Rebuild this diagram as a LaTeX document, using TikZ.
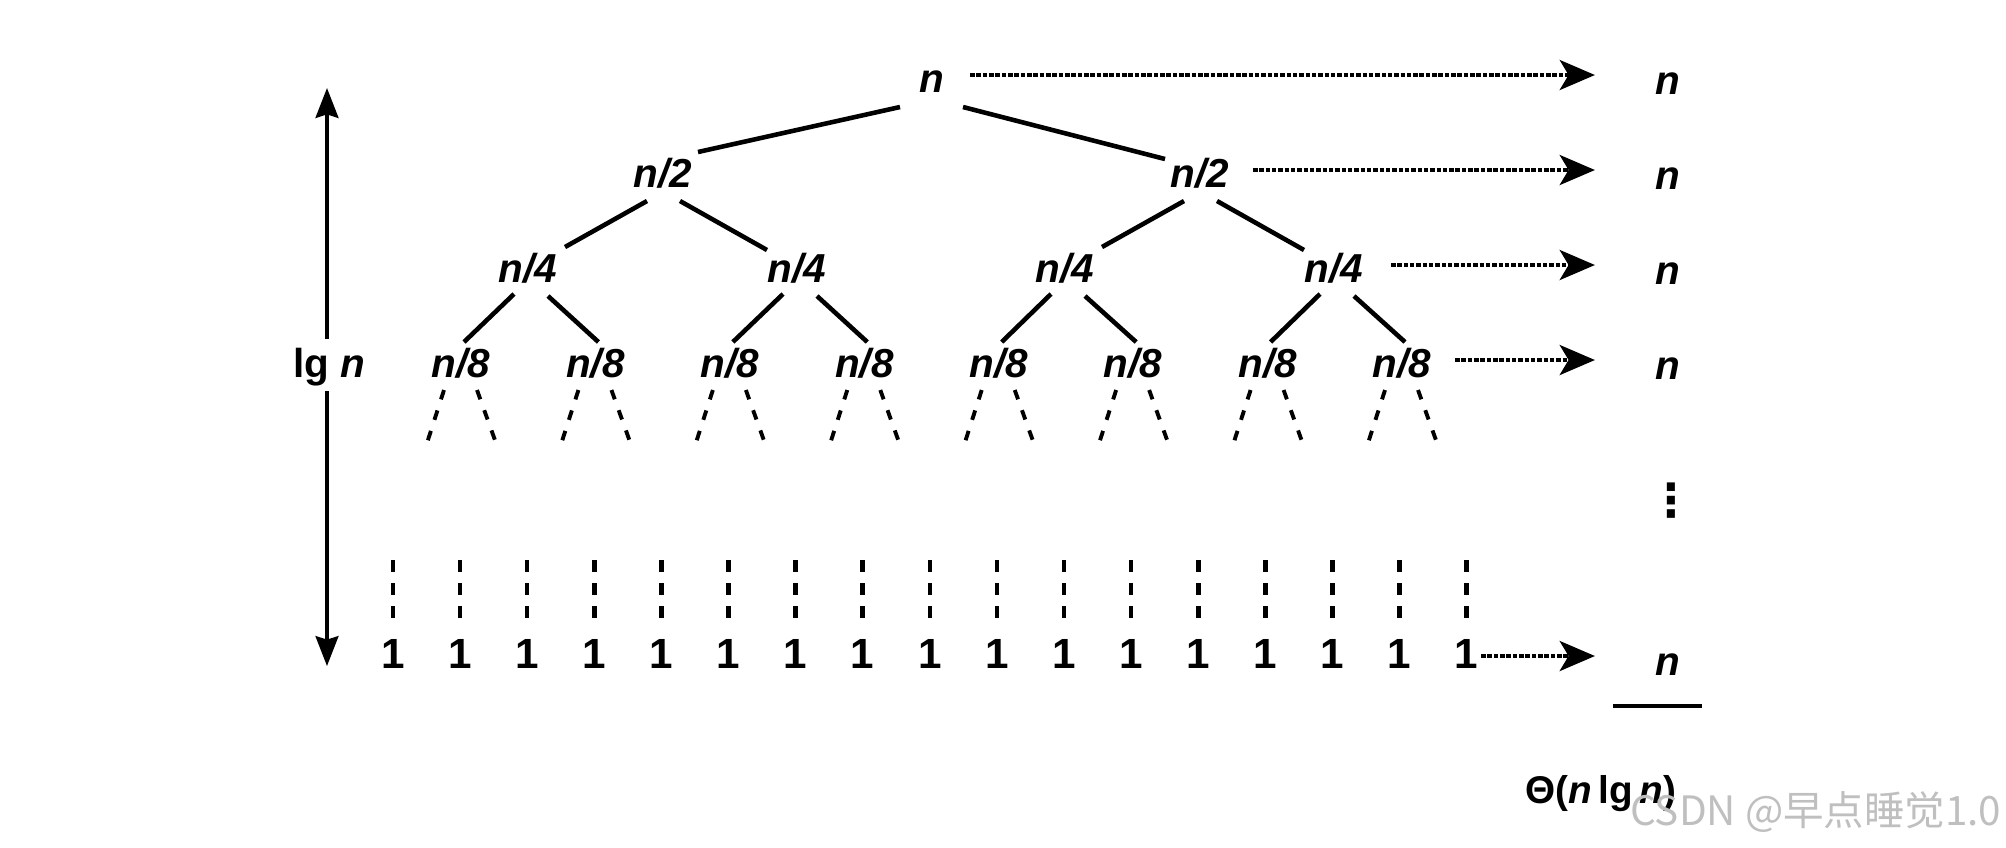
\documentclass[tikz,border=0pt]{standalone}
\usepackage{fontspec}
\setmainfont{Liberation Sans}
\newfontfamily\cjk{Noto Sans CJK SC}
\newfontfamily\dejavu{DejaVu Sans}
\usetikzlibrary{arrows.meta,calc}
\begin{document}
\begin{tikzpicture}[x=0.01cm,y=-0.01cm,
  lab/.style={inner sep=0pt, anchor=base, font=\fontsize{11.5}{13}\selectfont\bfseries\itshape},
  one/.style={inner sep=0pt, anchor=base, font=\fontsize{12}{14}\selectfont\bfseries},
  edge/.style={line width=1.3pt},
  stub/.style={line width=1.1pt, dash pattern=on 2.8pt off 3.3pt},
  col/.style={line width=1.3pt, dash pattern=on 3.4pt off 3.2pt},
  darr/.style={line width=1.3pt, dash pattern=on 1.3pt off 0.5pt, -{Stealth[length=10pt,width=8.5pt,inset=2.5pt]}},
  vaxis/.style={line width=1pt, -{Stealth[length=8.5pt,width=6.5pt,inset=1pt]}}]
\useasboundingbox (0,0) rectangle (2006,847);

% tree nodes
\node[lab] (r) at (932,92) {n};
\node[lab] (a1) at (663,187) {n/2};
\node[lab] (a2) at (1200,187) {n/2};
\foreach \i/\x in {1/528,2/797,3/1065,4/1334}
  \node[lab] (b\i) at (\x,282) {n/4};
\foreach \i in {1,...,8}
  \node[lab] (c\i) at ({461+134.43*(\i-1)},377) {n/8};

% tree edges
\draw[edge] ($(r.base)+(-32,15)$) -- ($(a1.base)+(35,-35)$);
\draw[edge] ($(r.base)+(31,15)$) -- ($(a2.base)+(-35,-28)$);
\foreach \p/\l/\q in {a1/b1/b2, a2/b3/b4}{
  \draw[edge] ($(\p.base)+(-16,14)$) -- ($(\l.base)+(37,-35)$);
  \draw[edge] ($(\p.base)+(17,14)$) -- ($(\q.base)+(-30,-32)$);
}
\foreach \p/\l/\q in {b1/c1/c2, b2/c3/c4, b3/c5/c6, b4/c7/c8}{
  \draw[edge] ($(\p.base)+(-14,12)$) -- ($(\l.base)+(3,-35)$);
  \draw[edge] ($(\p.base)+(20,14)$) -- ($(\q.base)+(3,-35)$);
}
% dotted stubs below n/8
\foreach \i in {1,...,8}{
  \draw[stub] ($(c\i.base)+(-17,13)$) -- ($(c\i.base)+(-34,66)$);
  \draw[stub] ($(c\i.base)+(16,13)$) -- ($(c\i.base)+(35,66)$);
}

% leaves
\foreach \i in {1,...,17}{
  \node[one] (o\i) at ({393+67.1*(\i-1)},668) {1};
  \draw[col] ($(o\i.base)+(0,-108)$) -- ($(o\i.base)+(0,-49)$);
}

% right column
\node[lab] (s0) at (1668,94) {n};
\node[lab] (s1) at (1668,189) {n};
\node[lab] (s2) at (1668,284) {n};
\node[lab] (s3) at (1668,379) {n};
\node[lab] (s4) at (1668,675) {n};
\node[inner sep=0pt, font=\dejavu\fontsize{13}{15}\selectfont\bfseries] (vd) at (1671,501) {⋮};
\draw[line width=1.1pt] ($(s4.base)+(-55,31)$) -- ($(s4.base)+(34,31)$);
\node[anchor=base, inner sep=0pt, font=\fontsize{11}{13}\selectfont\bfseries] (th) at (1601,803) {Θ(\textit{n}\,lg\,\textit{n})};

% dotted arrows
\draw[darr] ($(r.base east |- s0.base)+(25,-19)$) -- ($(s0.base west)+(-60,-19)$);
\draw[darr] ($(a2.base east |- s1.base)+(23,-19)$) -- ($(s1.base west)+(-60,-19)$);
\draw[darr] ($(b4.base east |- s2.base)+(27,-19)$) -- ($(s2.base west)+(-60,-19)$);
\draw[darr] ($(c8.base east |- s3.base)+(23,-19)$) -- ($(s3.base west)+(-60,-19)$);
\draw[darr] ($(o17.base east |- s4.base)+(2,-19)$) -- ($(s4.base west)+(-60,-19)$);

% left axis
\node[anchor=base, inner sep=0pt, font=\fontsize{11.5}{13}\selectfont\bfseries] (lg) at (329,377) {lg \textit{n}};
\coordinate (top) at (327,88);
\coordinate (bot) at (327,666);
\draw[vaxis] ($(lg.north -| top)+(0,-8)$) -- (top);
\draw[vaxis] ($(lg.south -| bot)+(0,5)$) -- (bot);

% watermark
\node[anchor=base east, inner sep=0pt, text=black!25, font=\cjk\fontsize{11.5}{13}\selectfont] (wm) at (2002,825) {CSDN @早点睡觉1.0};
\end{tikzpicture}
\end{document}
